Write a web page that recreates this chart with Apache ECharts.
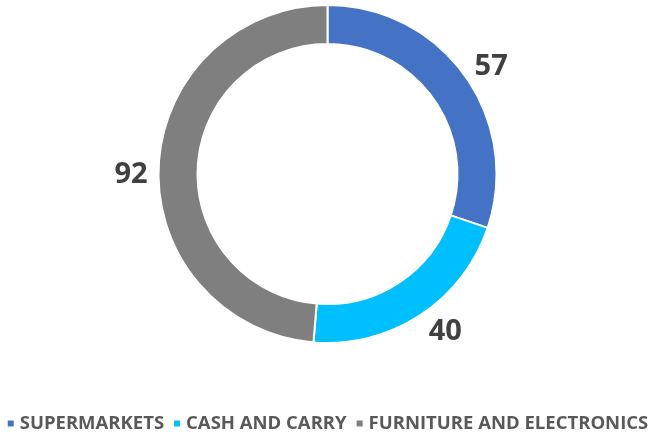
<!DOCTYPE html>
<html>
<head>
<meta charset="utf-8">
<script src="https://cdn.jsdelivr.net/npm/echarts@6/dist/echarts.min.js"></script>
<style>
  html, body { margin: 0; padding: 0; background: #fff; }
  #chart { width: 654px; height: 436px; }
</style>
</head>
<body>
<div id="chart"></div>
<script>
var categories = ['SUPERMARKETS', 'CASH AND CARRY', 'FURNITURE AND ELECTRONICS']
var values = [57, 40, 92]
var colors = ['#4472C4', '#00BFFF', '#7F7F7F']
// small nudges so the value labels sit where the original puts them
var labelOffsets = [[0, -5], [0, 12], [0, 8]]

var chart = echarts.init(document.getElementById('chart'))

chart.setOption({
  animation: false,
  legend: {
    top: 414,
    left: 'center',
    padding: 0,
    itemWidth: 8,
    itemHeight: 8,
    itemGap: 8,
    icon: 'rect',
    textStyle: {
      color: '#595959',
      fontSize: 18.5,
      fontWeight: 'bold',
      fontFamily: 'Open Sans'
    },
    data: categories
  },
  series: [{
    type: 'pie',
    center: [327.5, 174],
    radius: [130, 169],
    startAngle: 90,
    clockwise: true,
    itemStyle: {
      borderColor: '#fff',
      borderWidth: 2
    },
    label: {
      show: true,
      position: 'outside',
      formatter: '{c}',
      color: '#404040',
      fontSize: 29,
      fontWeight: 'bold',
      fontFamily: 'Open Sans'
    },
    labelLine: { show: false, length: 6, length2: 0 },
    data: categories.map(function (name, i) {
      return {
        name: name,
        value: values[i],
        itemStyle: { color: colors[i] },
        label: { offset: labelOffsets[i] }
      }
    })
  }]
})
</script>
</body>
</html>
